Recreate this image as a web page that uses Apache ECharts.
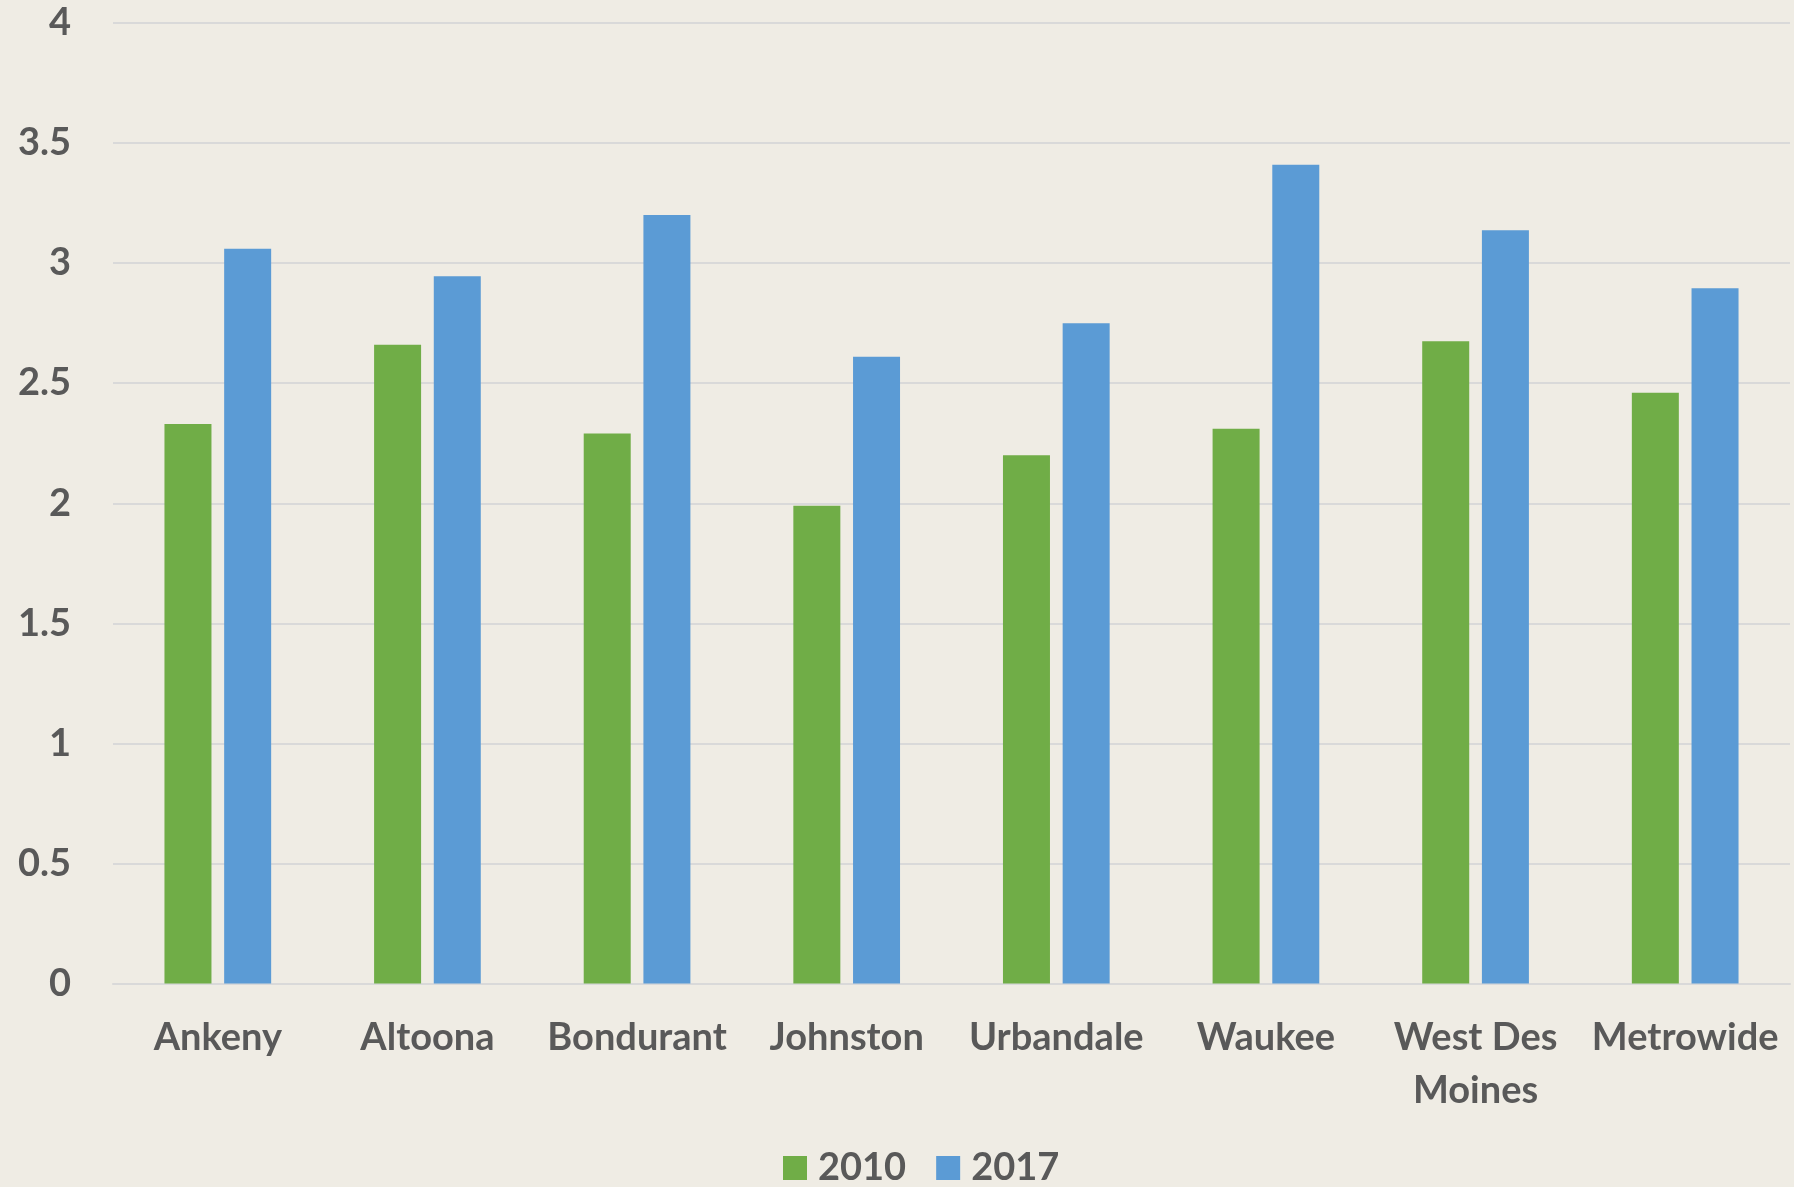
<!DOCTYPE html>
<html>
<head>
<meta charset="utf-8">
<script src="https://cdn.jsdelivr.net/npm/echarts@6/dist/echarts.min.js"></script>
<style>
html,body{margin:0;padding:0;background:#EFECE4;}
#chart{width:1794px;height:1187px;}
</style>
</head>
<body>
<div id="chart"></div>
<script>
const categories = ["Ankeny", "Altoona", "Bondurant", "Johnston", "Urbandale", "Waukee", "West Des Moines", "Metrowide"];
const seriesNames = ["2010", "2017"];
const values2010 = [2.33, 2.66, 2.29, 1.99, 2.20, 2.31, 2.675, 2.46];
const values2017 = [3.06, 2.945, 3.20, 2.61, 2.75, 3.41, 3.137, 2.895];
const yTicks = [0, 0.5, 1, 1.5, 2, 2.5, 3, 3.5, 4];

const labelColor = '#595959';
const fontFam = 'Lato, "Open Sans", sans-serif';
const chart = echarts.init(document.getElementById('chart'));
chart.setOption({
  backgroundColor: '#EFECE4',
  animation: false,
  grid: {left: 113, right: 4, top: 23, bottom: 203.5, containLabel: false},
  legend: {
    data: seriesNames,
    top: 1144,
    left: 778,
    icon: 'rect',
    itemWidth: 24,
    itemHeight: 24,
    itemGap: 30,
    textStyle: {color: labelColor, fontSize: 38, fontWeight: 'bold', fontFamily: fontFam, padding: [0, 0, 0, 6]}
  },
  xAxis: {
    type: 'category',
    data: categories,
    axisLine: {show: true, lineStyle: {color: '#D9D9D9', width: 2}},
    axisTick: {show: false},
    axisLabel: {
      color: labelColor, fontSize: 38, fontWeight: 'bold', fontFamily: fontFam,
      margin: 28, lineHeight: 53, interval: 0,
      formatter: function (v) { return v === 'West Des Moines' ? 'West Des\nMoines' : v; }
    }
  },
  yAxis: {
    type: 'value',
    min: yTicks[0],
    max: yTicks[yTicks.length - 1],
    interval: 0.5,
    axisLine: {show: false},
    axisTick: {show: false},
    splitLine: {lineStyle: {color: '#D9D9D9', width: 2}},
    axisLabel: {color: labelColor, fontSize: 38, fontWeight: 'bold', fontFamily: fontFam, margin: 42}
  },
  series: [
    {name: seriesNames[0], type: 'bar', data: values2010, barWidth: 47, barGap: '27%',
     itemStyle: {color: '#70AD47'}},
    {name: seriesNames[1], type: 'bar', data: values2017, barWidth: 47, barGap: '27%',
     itemStyle: {color: '#5B9BD5'}}
  ]
});
</script>
</body>
</html>
